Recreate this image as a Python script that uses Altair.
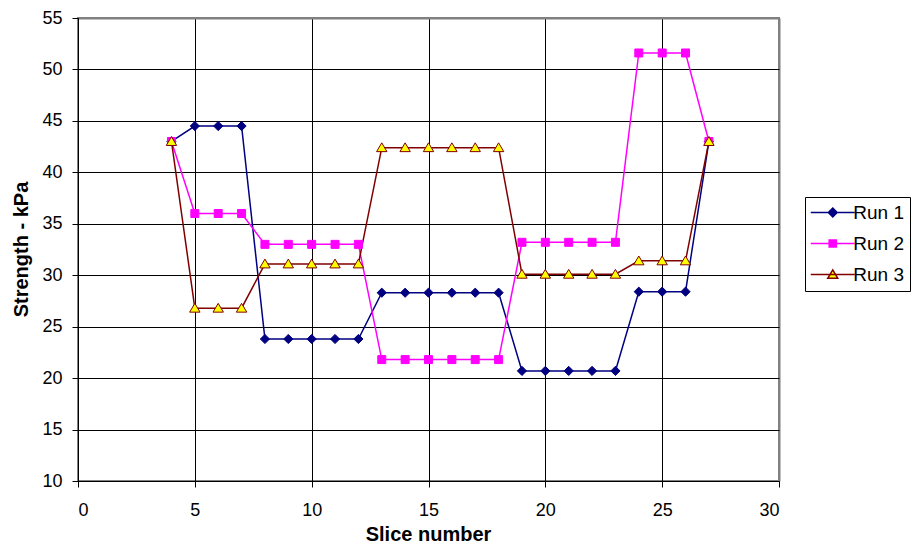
import altair as alt
import pandas as pd

# ---- data ----
slices = [4, 5, 6, 7, 8, 9, 10, 11, 12, 13, 14, 15, 16, 17, 18, 19, 20, 21, 22, 23, 24, 25, 26, 27]
run1 = [43.0, 44.5, 44.5, 44.5, 23.8, 23.8, 23.8, 23.8, 23.8, 28.3, 28.3, 28.3, 28.3, 28.3, 28.3,
        20.7, 20.7, 20.7, 20.7, 20.7, 28.4, 28.4, 28.4, 43.0]
run2 = [43.0, 36.0, 36.0, 36.0, 33.0, 33.0, 33.0, 33.0, 33.0, 21.8, 21.8, 21.8, 21.8, 21.8, 21.8,
        33.2, 33.2, 33.2, 33.2, 33.2, 51.6, 51.6, 51.6, 43.0]
run3 = [43.0, 26.8, 26.8, 26.8, 31.1, 31.1, 31.1, 31.1, 31.1, 42.4, 42.4, 42.4, 42.4, 42.4, 42.4,
        30.1, 30.1, 30.1, 30.1, 30.1, 31.4, 31.4, 31.4, 43.0]
series_names = ["Run 1", "Run 2", "Run 3"]
x_ticks = [0, 5, 10, 15, 20, 25, 30]
y_ticks = [10, 15, 20, 25, 30, 35, 40, 45, 50, 55]

# ---- styles ----
line_colors = ["#000080", "#FF00FF", "#800000"]
fill_colors = ["#000080", "#FF00FF", "#FFFF00"]
marker_paths = [
    "M0,-1.15L1.15,0L0,1.15L-1.15,0Z",
    "M-1,-1H1V1H-1Z",
    "M0,-1.2L1.3,1L-1.3,1Z",
]
legend_paths = [
    "M0,0H11M5.5,-1.1L6.6,0L5.5,1.1L4.4,0Z",
    "M0,0H11M4.6,-0.9H6.4V0.9H4.6Z",
    "M0,0H11M5.5,-1.15L6.75,0.95L4.25,0.95Z",
]

rows = []
for name, vals in zip(series_names, [run1, run2, run3]):
    for s, v in zip(slices, vals):
        rows.append({"Slice": s, "Strength": v, "Series": name})
df = pd.DataFrame(rows)

FONT = "Liberation Sans"

x_enc = alt.X(
    "Slice:Q",
    scale=alt.Scale(domain=[0, 30], nice=False, zero=False),
    axis=alt.Axis(
        values=x_ticks,
        title="Slice number",
        grid=True,
        gridColor={"condition": {"test": "datum.value == 30", "value": "#808080"}, "value": "#000000"},
        gridWidth={"condition": {"test": "datum.value == 30", "value": 2}, "value": 1},
        domainColor="#000000",
        tickColor="#000000",
        tickSize=6,
        labelPadding=14,
        labelFontSize=18,
        labelFont=FONT,
        labelColor="#000000",
        titleFont=FONT,
        titleFontSize=20,
        titleFontWeight="bold",
        titleColor="#000000",
        titleBaseline="bottom",
        titleY=63,
        titleX=350,
    ),
)
y_enc = alt.Y(
    "Strength:Q",
    scale=alt.Scale(domain=[10, 55], nice=False, zero=False),
    axis=alt.Axis(
        values=y_ticks,
        title="Strength - kPa",
        grid=True,
        gridColor={"condition": {"test": "datum.value == 55", "value": "#808080"}, "value": "#000000"},
        gridWidth={"condition": {"test": "datum.value == 55", "value": 2}, "value": 1},
        domainColor="#000000",
        tickColor="#000000",
        tickSize=6,
        labelPadding=10,
        labelFontSize=18,
        labelFont=FONT,
        labelColor="#000000",
        titleFont=FONT,
        titleFontSize=20,
        titleFontWeight="bold",
        titleColor="#000000",
        titleBaseline="alphabetic",
        titleAngle=270,
        titleX=-51,
        titleY=231,
    ),
)

base = alt.Chart(df)

lines = base.mark_line(strokeWidth=1.5).encode(
    x=x_enc,
    y=y_enc,
    color=alt.Color("Series:N", scale=alt.Scale(domain=series_names, range=line_colors), legend=None),
)

points = base.mark_point(filled=True, size=64, strokeWidth=1, opacity=1).encode(
    x=x_enc,
    y=y_enc,
    shape=alt.Shape("Series:N", scale=alt.Scale(domain=series_names, range=marker_paths), legend=None),
    fill=alt.Fill("Series:N", scale=alt.Scale(domain=series_names, range=fill_colors), legend=None),
    stroke=alt.Stroke("Series:N", scale=alt.Scale(domain=series_names, range=line_colors), legend=None),
)

leg = alt.Legend(
    title=None,
    orient="none",
    legendX=727,
    legendY=179,
    padding=6,
    strokeColor="#000000",
    fillColor="#FFFFFF",
    symbolSize=64,
    symbolStrokeWidth=1.5,
    symbolOffset=-9.75,
    labelOffset=33,
    labelFontSize=19,
    labelFont=FONT,
    labelColor="#000000",
    rowPadding=11,
)

legend_layer = base.mark_point(filled=True, size=64, strokeWidth=1.5, opacity=1).encode(
    x=x_enc,
    y=y_enc,
    shape=alt.Shape("Series:N", scale=alt.Scale(domain=series_names, range=legend_paths), legend=leg),
    fill=alt.Fill("Series:N", scale=alt.Scale(domain=series_names, range=fill_colors), legend=leg),
    stroke=alt.Stroke("Series:N", scale=alt.Scale(domain=series_names, range=line_colors), legend=leg),
).transform_filter("false")

chart = (
    alt.layer(lines, points, legend_layer)
    .resolve_scale(shape="independent", fill="independent", stroke="independent", color="independent")
    .properties(
        width=701,
        height=463,
        padding={"left": 70, "top": 10, "right": 133, "bottom": 63},
        autosize=alt.AutoSizeParams(type="none"),
        background="#FFFFFF",
    )
    .configure_view(stroke="#808080", strokeWidth=2)
)

chart.save("out.html", embed_options={"renderer": "svg", "actions": False})
